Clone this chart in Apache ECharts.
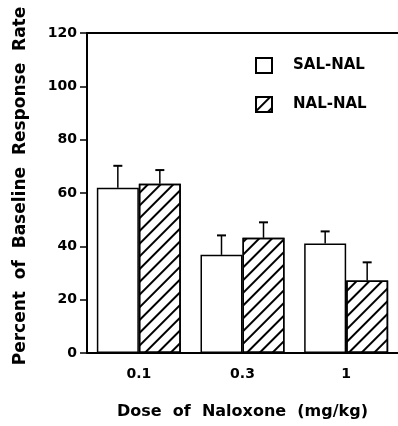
<!DOCTYPE html>
<html>
<head>
<meta charset="utf-8">
<script src="https://cdn.jsdelivr.net/npm/echarts@6/dist/echarts.min.js"></script>
<style>
  html, body { margin: 0; padding: 0; background: #fff; }
  #myChart { width: 398px; height: 426px; }
</style>
</head>
<body>
<div id="myChart"></div>
<script>
  // 剂量分组
  var doses = ['0.1', '0.3', '1']
  // SAL-NAL 均值和误差
  var salMean = [62, 36.8, 41.1]
  var salErr = [8.2, 7.3, 4.5]
  // NAL-NAL 均值和误差
  var nalMean = [63.5, 43.2, 27.2]
  var nalErr = [5.1, 5.8, 6.8]
  var yTicks = [0, 20, 40, 60, 80, 100, 120]

  var font = "'DejaVu Sans', Arial, sans-serif"

  function errData(mean, err) {
    return mean.map(function (m, i) { return [i, m, m + err[i]] })
  }

  function errSeries(name, mean, err, offset) {
    return {
      name: name,
      type: 'custom',
      data: errData(mean, err),
      z: 3,
      renderItem: function (params, api) {
        var base = api.coord([api.value(0), api.value(1)])
        var top = api.coord([api.value(0), api.value(2)])
        var x = base[0] + offset
        return {
          type: 'group',
          children: [
            { type: 'line', shape: { x1: x, y1: base[1], x2: x, y2: top[1] }, style: { stroke: '#000', lineWidth: 1.5 } },
            { type: 'line', shape: { x1: x - 4.5, y1: top[1], x2: x + 4.5, y2: top[1] }, style: { stroke: '#000', lineWidth: 2 } }
          ]
        }
      }
    }
  }

  var myChart = echarts.init(document.getElementById('myChart'))
  var option = {
    animation: false,
    textStyle: { fontFamily: font },
    grid: { left: 87, top: 33, right: 0, bottom: 73 },
    legend: {
      orient: 'vertical',
      left: 255,
      top: 57,
      padding: 0,
      icon: 'rect',
      itemWidth: 16,
      itemHeight: 15,
      itemGap: 22,
      data: ['SAL-NAL', 'NAL-NAL'],
      textStyle: { fontFamily: font, fontWeight: 'bold', fontSize: 15, lineHeight: 15, color: '#000', padding: [0, 0, 0, 16] }
    },
    xAxis: [{
      type: 'category',
      data: doses,
      axisLine: { lineStyle: { color: '#000', width: 2 } },
      axisTick: { alignWithLabel: true, length: 5, lineStyle: { color: '#000', width: 1.5 } },
      axisLabel: { color: '#000', fontWeight: 'bold', fontSize: 14, margin: 14 },
      name: 'Dose  of  Naloxone  (mg/kg)',
      nameLocation: 'middle',
      nameGap: 51,
      nameTextStyle: { color: '#000', fontWeight: 'bold', fontSize: 16 }
    }, {
      type: 'category',
      position: 'top',
      data: doses,
      axisLine: { lineStyle: { color: '#000', width: 2 } },
      axisTick: { show: false },
      axisLabel: { show: false }
    }],
    yAxis: {
      type: 'value',
      min: 0,
      max: 120,
      interval: 20,
      axisLine: { show: true, lineStyle: { color: '#000', width: 2 } },
      axisTick: { show: true, length: 7, lineStyle: { color: '#000', width: 1.5 } },
      splitLine: { show: false },
      axisLabel: {
        color: '#000', fontWeight: 'bold', fontSize: 14, margin: 10,
        formatter: function (v) { return yTicks.indexOf(v) >= 0 ? String(v) : '' }
      },
      name: 'Percent  of  Baseline  Response  Rate',
      nameLocation: 'middle',
      nameRotate: 90,
      nameGap: 58,
      nameTextStyle: { color: '#000', fontWeight: 'bold', fontSize: 17, padding: [0, 0, 0, 14] }
    },
    series: [{
      name: 'SAL-NAL',
      type: 'bar',
      data: salMean,
      barWidth: 42,
      barGap: '0%',
      itemStyle: { color: '#fff', borderColor: '#000', borderWidth: 1.5 }
    }, {
      name: 'NAL-NAL',
      type: 'bar',
      data: nalMean,
      barWidth: 42,
      barGap: '0%',
      itemStyle: {
        color: '#fff', borderColor: '#000', borderWidth: 1.5,
        decal: {
          symbol: 'rect',
          symbolSize: 1,
          color: '#000',
          dashArrayX: [1, 0],
          dashArrayY: [1.4, 7],
          rotation: -Math.PI / 4
        }
      }
    },
    errSeries('SAL-NAL', salMean, salErr, -21),
    errSeries('NAL-NAL', nalMean, nalErr, 21)]
  }
  myChart.setOption(option)
</script>
</body>
</html>
